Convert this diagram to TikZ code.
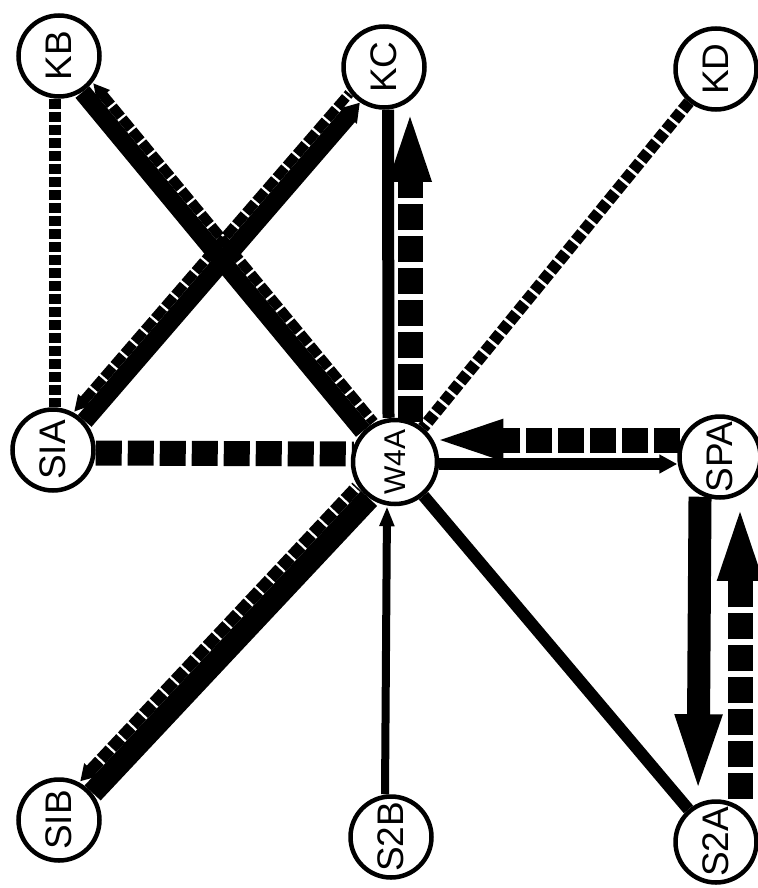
\documentclass[tikz,border=0pt]{standalone}
\usepackage{fontspec}
\setmainfont{Liberation Sans}
\usepackage{graphicx}
\usetikzlibrary{arrows.meta,calc}
\pgfdeclarelayer{bg}
\pgfsetlayers{bg,main}
\begin{document}
\begin{tikzpicture}[x=1pt,y=-1pt,
  stn/.style={circle,draw,line width=4.5pt,fill=white,minimum size=81pt,inner sep=0pt,
    font=\fontsize{37}{37}\selectfont},
  solidflow/.style={line width=#1,line cap=butt},
  bigdash/.style={line width=25pt,dash pattern=on 26pt off 6pt},
  smalldash/.style={line width=12pt,dash pattern=on 10pt off 3pt},
  bandsolid/.style={line width=#1},
  banddash/.style={line width=#1,dash pattern=on 13pt off 2.5pt}
]
\useasboundingbox (0,0) rectangle (757,888);

\node[stn] (KB) at (59,56) {\rotatebox{90}{KB}};
\node[stn] (KC) at (384,67) {\rotatebox{90}{KC}};
\node[stn] (KD) at (716,69) {\rotatebox{90}{KD}};
\node[stn] (SIA) at (53,450) {\rotatebox{90}{SIA}};
\node[stn,minimum size=84pt] (W4A) at (395,462) {\rotatebox{90}{\fontsize{30}{30}\selectfont W4A}};
\node[stn] (SPA) at (720,457) {\rotatebox{90}{SPA}};
\node[stn] (SIB) at (59,820) {\rotatebox{90}{SIB}};
\node[stn] (S2B) at (391,837) {\rotatebox{90}{S2B}};
\node[stn] (S2A) at (716,842) {\rotatebox{90}{S2A}};

\begin{pgfonlayer}{bg}
% KB -- SIA
\draw[smalldash] ([xshift=-4pt]KB.south) -- ([xshift=2pt]SIA.north);
% KB -- W4A band
\draw[bandsolid=18pt,transform canvas={shift={(-3.85pt,-3.19pt)}}] (KB) -- (W4A);
\draw[banddash=10pt,{Triangle[length=16pt,width=16pt]}-,transform canvas={shift={(6.93pt,5.74pt)}}] (KB) -- (W4A);
% SIA -- KC band
\draw[bandsolid=18pt,-{Triangle[length=18pt,width=22pt]},transform canvas={shift={(3.79pt,-3.27pt)}}] (SIA) -- (KC);
\draw[banddash=10pt,{Triangle[length=16pt,width=16pt]}-,transform canvas={shift={(-6.81pt,5.89pt)}}] (SIA) -- (KC);
% SIB -- W4A band
\draw[bandsolid=22pt,transform canvas={shift={(4.37pt,-4.10pt)}}] (SIB) -- (W4A);
\draw[banddash=12pt,{Triangle[length=16pt,width=18pt]}-,transform canvas={shift={(-8.02pt,7.52pt)}}] (SIB) -- (W4A);
% KC -- W4A
\draw[solidflow=12pt] ([xshift=4pt]KC.south) -- ([xshift=-6.5pt]W4A.north);
\draw[bigdash,-{Triangle[length=78pt,width=36pt]},shorten <=-4pt,shorten >=-6pt] ([xshift=15pt]W4A.north) -- ([xshift=26pt]KC.south);
% KD -- W4A
\draw[smalldash] (KD) -- (W4A);
% SIA -- W4A
\draw[bigdash,shorten >=-3pt] ([yshift=-3pt]SIA.east) -- ([yshift=8pt]W4A.west);
% SPA -> W4A (dashed), W4A -> SPA (solid)
\draw[bigdash,-{Triangle[length=80pt,width=34pt]},shorten <=-3pt,shorten >=-16pt] ([yshift=17pt]SPA.west) -- ([yshift=22pt]W4A.east);
\draw[solidflow=12pt,-{Triangle[length=18pt,width=18pt]}] ([yshift=-2pt]W4A.east) -- ([yshift=-7pt]SPA.west);
% S2B -> W4A
\draw[solidflow=8pt,-{Triangle[length=20pt,width=14pt]}] ([xshift=-6pt]S2B.north) -- ([xshift=-8pt]W4A.south);
% W4A -- S2A
\draw[solidflow=12pt] (W4A) -- (S2A);
% SPA -> S2A (solid), S2A -> SPA (dashed)
\draw[solidflow=23pt,-{Triangle[length=85pt,width=40pt]},shorten <=-3pt] ([xshift=-20pt]SPA.south) -- ([xshift=-18pt]S2A.north);
\draw[bigdash,-{Triangle[length=83pt,width=38pt]},shorten >=-12pt] ([xshift=24pt]S2A.north) -- ([xshift=20pt,yshift=-10pt]SPA.south);
\end{pgfonlayer}
\end{tikzpicture}
\end{document}
